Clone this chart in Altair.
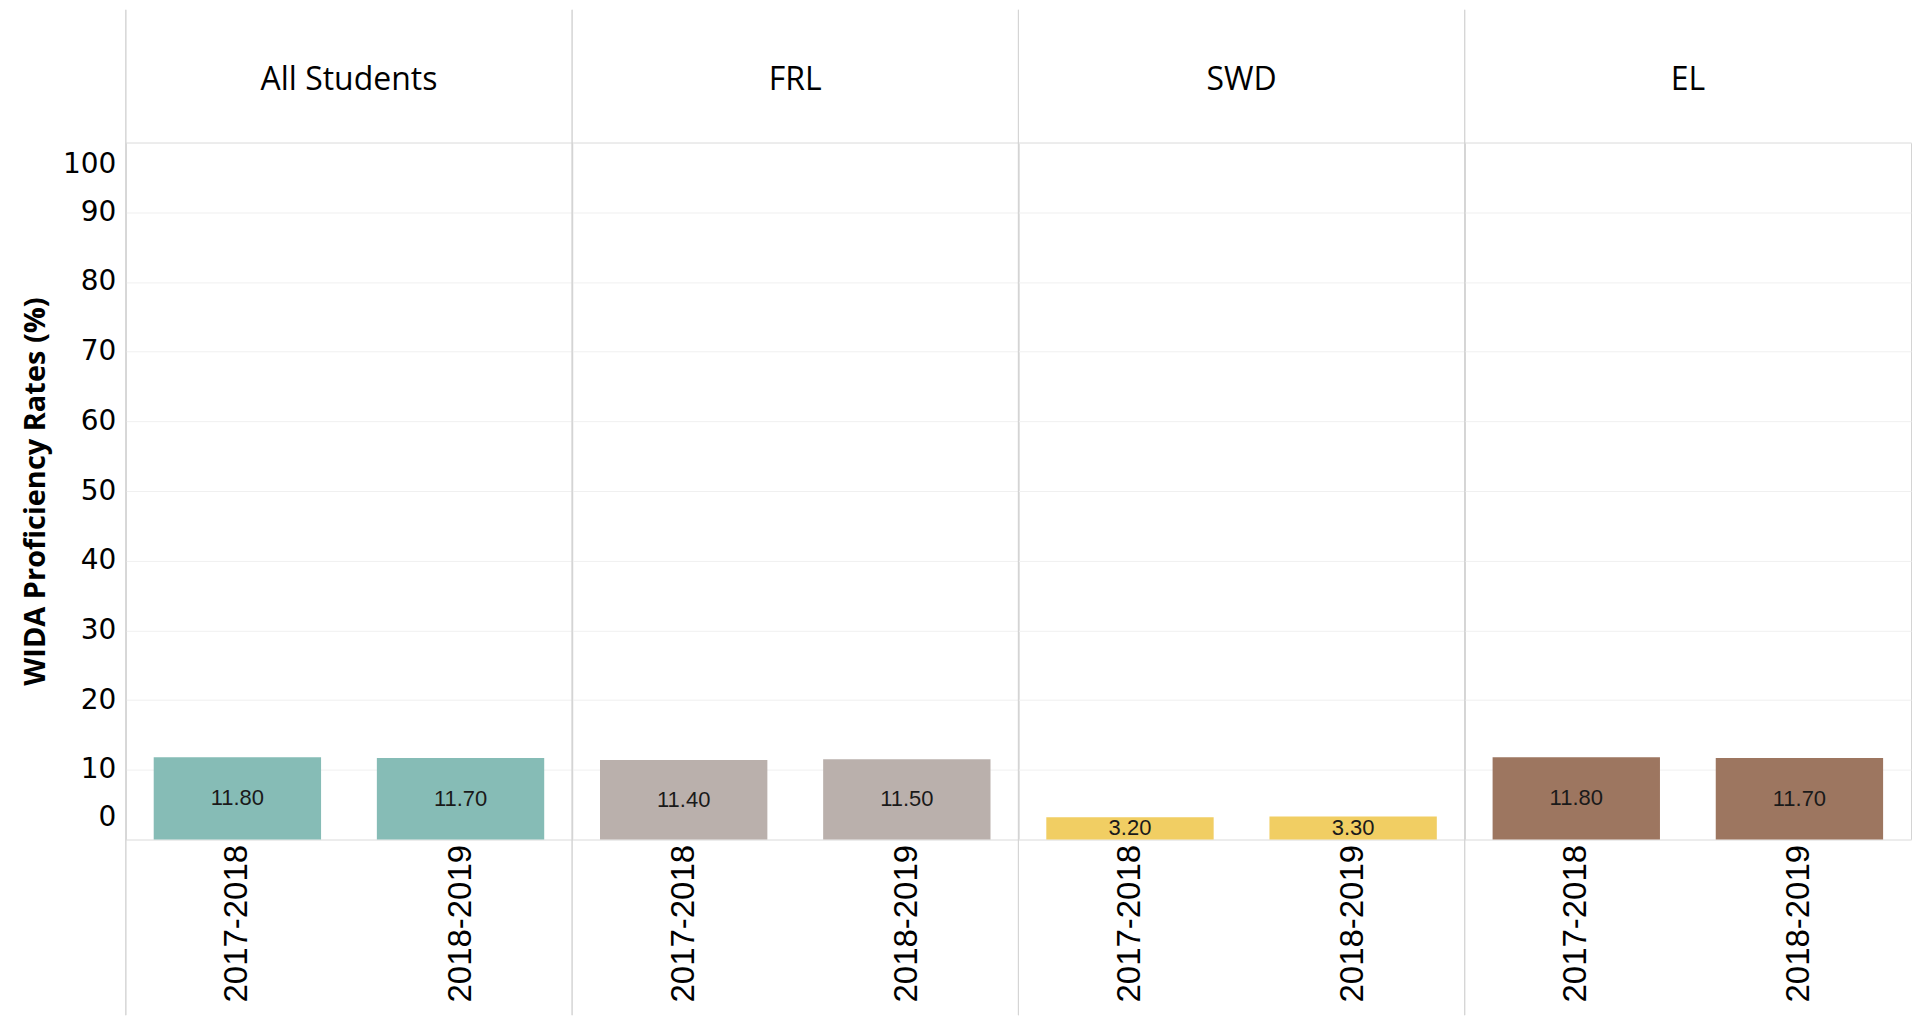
import altair as alt
import pandas as pd

groups = ["All Students", "FRL", "SWD", "EL"]
years = ["2017-2018", "2018-2019"]
all_students = [11.8, 11.7]
frl = [11.4, 11.5]
swd = [3.2, 3.3]
el = [11.8, 11.7]
colors = ["#86BCB6", "#BAB0AC", "#F1CE63", "#9D7660"]
y_ticks = [0, 10, 20, 30, 40, 50, 60, 70, 80, 90, 100]

series = [all_students, frl, swd, el]
rows = []
for g, vals in zip(groups, series):
    for yr, v in zip(years, vals):
        rows.append({"group": g, "year": yr, "value": v})
df = pd.DataFrame(rows)

W = 447
H = 698
LINE = "#d4d4d4"

x_enc = alt.X(
    "year:N",
    sort=years,
    scale=alt.Scale(paddingInner=0.25, paddingOuter=0.125),
    axis=alt.Axis(
        title=None,
        labelAngle=-90,
        labelFont="Liberation Sans",
        labelFontSize=33,
        labelColor="#000000",
        labelPadding=5,
        ticks=False,
        domain=False,
    ),
)

y_enc = alt.Y(
    "value:Q",
    scale=alt.Scale(domain=[0, 100], nice=False),
    axis=alt.Axis(
        title="WIDA Proficiency Rates (%)",
        titleFont="Open Sans",
        titleFontSize=29,
        titleFontWeight="bold",
        titleColor="#000000",
        titlePadding=12,
        values=y_ticks,
        labelFont="DejaVu Sans",
        labelFontSize=28,
        labelColor="#000000",
        labelPadding=10,
        labelFlush=True,
        labelFlushOffset=-8,
        ticks=False,
        domain=False,
        gridColor="#f0f0f0",
    ),
)

bars = alt.Chart().mark_bar().encode(
    x=x_enc,
    y=y_enc,
    color=alt.Color("group:N", scale=alt.Scale(domain=groups, range=colors), legend=None),
)

labels = alt.Chart().transform_calculate(mid="datum.value / 2").mark_text(
    font="Liberation Sans", fontSize=22, color="#1a1a1a"
).encode(
    x=alt.X("year:N", sort=years),
    y=alt.Y("mid:Q"),
    text=alt.Text("value:Q", format=".2f"),
)

rules = alt.Chart().mark_rule(color=LINE, strokeWidth=1).encode(
    x=alt.value(0), y=alt.value(-133), y2=alt.value(H + 176)
)

chart = (
    alt.layer(bars, labels, rules, data=df)
    .properties(width=W, height=H)
    .facet(
        column=alt.Column(
            "group:N",
            sort=groups,
            header=alt.Header(
                title=None,
                labelFont="Open Sans",
                labelFontSize=32,
                labelColor="#000000",
                labelPadding=46,
            ),
        ),
        spacing=0,
        bounds="flush",
    )
    .properties(padding={"left": 13, "top": 0, "right": 0, "bottom": 0})
    .configure_view(stroke=LINE, strokeWidth=1)
)

chart.save("out.html", embed_options={"renderer": "svg", "actions": False})
